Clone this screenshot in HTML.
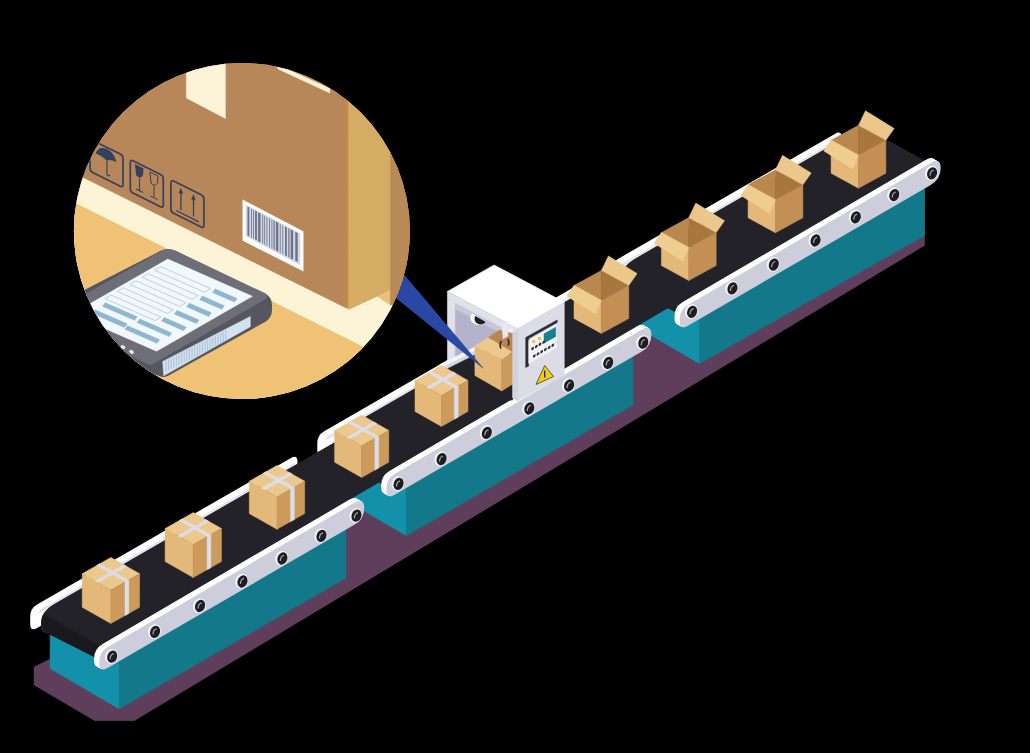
<!DOCTYPE html>
<html><head><meta charset="utf-8"><style>html,body{margin:0;padding:0;background:#000;}svg{display:block}</style></head>
<body><svg width="1030" height="753" viewBox="0 0 1030 753">
<rect width="1030" height="753" fill="#000"/>
<polygon points="34,667 34,685 94.9,720.8 134.2,720.8 924.5,245.5 924.5,180 50.1,650 50.1,659" fill="#5e3e5a" stroke="#5e3e5a" stroke-width="0.5" stroke-linejoin="round"/>
<polygon points="630.5,323.4 699.7,363.7 699.7,313.7 630.5,285.7" fill="#1391aa" stroke="#1391aa" stroke-width="0.5" stroke-linejoin="round"/>
<polygon points="699.7,363.7 924.5,235.6 924.5,173.6 699.7,301.7" fill="#12788a" stroke="#12788a" stroke-width="0.5" stroke-linejoin="round"/>
<path d="M610.6,271.2 Q610.6,263.2 617.5,259.2 L834.8,133.9 Q841.7,129.9 841.7,137.9 L841.7,145.4 Q841.7,153.4 834.8,157.4 L617.5,282.7 Q610.6,286.7 610.6,278.7 Z" fill="#ffffff" />
<polygon points="619.7,265 874.7,117.8 874.7,120.8 619.7,268" fill="#e6e6f0" stroke="#e6e6f0" stroke-width="0.5" stroke-linejoin="round"/>
<path d="M624.2,287.0 Q621.4,285.8 621.4,282.8 L621.4,277.7 Q621.4,271.7 625.0,267.0 L625.0,267.0 Q628.5,262.4 633.7,259.4 L863.6,126.7 Q863.6,126.7 863.6,126.7 L924.9,160.5 Q924.9,160.5 924.9,160.5 L677.1,305.4 Q677.1,305.4 677.1,305.4 L677.1,313.0 Q677.1,313.0 677.1,313.0 L633.2,290.9 Q630.5,289.6 627.7,288.4 Z" fill="#232228" />
<polygon points="337.2,495.4 406.4,535.7 406.4,485.7 337.2,457.7" fill="#1391aa" stroke="#1391aa" stroke-width="0.5" stroke-linejoin="round"/>
<polygon points="406.4,535.7 633.1,404.9 633.1,342.9 406.4,473.7" fill="#12788a" stroke="#12788a" stroke-width="0.5" stroke-linejoin="round"/>
<path d="M317.3,443.2 Q317.3,435.2 324.2,431.2 L577.7,285.0 Q584.6,281.0 584.6,289.0 L584.6,296.5 Q584.6,304.5 577.7,308.5 L324.2,454.7 Q317.3,458.7 317.3,450.7 Z" fill="#ffffff" />
<polygon points="326.4,437 581.4,289.8 581.4,292.8 326.4,440" fill="#e6e6f0" stroke="#e6e6f0" stroke-width="0.5" stroke-linejoin="round"/>
<path d="M341.7,459.2 Q344.4,457.8 344.4,454.8 L344.4,441.7 Q344.4,435.7 347.4,430.7 L347.4,430.7 Q350.4,425.6 355.6,422.6 L646.4,254.8 Q646.4,254.8 646.4,254.8 L691.4,294.5 Q691.4,294.5 691.4,294.5 L383.8,474.4 Q383.8,474.4 383.8,474.4 L383.8,485.0 Q383.8,485.0 383.8,485.0 L339.9,462.9 Q337.2,461.6 339.9,460.2 Z" fill="#232228" />
<polygon points="50.1,668.6 119.3,708.9 119.3,658.9 50.1,630.9" fill="#1391aa" stroke="#1391aa" stroke-width="0.5" stroke-linejoin="round"/>
<polygon points="119.3,708.9 346,578.1 346,516.1 119.3,646.9" fill="#12788a" stroke="#12788a" stroke-width="0.5" stroke-linejoin="round"/>
<path d="M30.2,616.4 Q30.2,608.4 37.1,604.4 L290.6,458.2 Q297.5,454.2 297.5,462.2 L297.5,469.7 Q297.5,477.7 290.6,481.7 L37.1,627.9 Q30.2,631.9 30.2,623.9 Z" fill="#ffffff" />
<polygon points="39.3,610.2 294.3,463 294.3,466 39.3,613.2" fill="#e6e6f0" stroke="#e6e6f0" stroke-width="0.5" stroke-linejoin="round"/>
<path d="M43.8,632.2 Q41.0,631.0 41.0,628.0 L41.0,622.9 Q41.0,616.9 44.5,612.2 L44.5,612.2 Q48.1,607.6 53.3,604.6 L359.3,428.0 Q359.3,428.0 359.3,428.0 L404.3,467.7 Q404.3,467.7 404.3,467.7 L96.7,647.6 Q96.7,647.6 96.7,647.6 L96.7,658.2 Q96.7,658.2 96.7,658.2 L52.8,636.1 Q50.1,634.8 47.3,633.6 Z" fill="#232228" />
<path d="M41.9,617.6 Q42.9,613.3 47.2,615.8 L100.3,646.4 Q100.3,646.4 100.3,646.4 L96.7,658.2 Q96.7,658.2 96.7,658.2 L50.1,634.8 Q50.1,634.8 50.1,634.8 L47.0,632.9 Q44.0,631.0 42.7,627.2 L42.3,625.8 Q41.0,622.0 41.9,618.1 Z" fill="#19181d" />
<path d="M678.8,318.9 Q678.8,309.4 687.0,304.6 L929.5,162.8 Q939.8,156.7 939.8,167.7 L939.8,167.7 Q939.8,178.7 929.5,184.7 L687.1,325.3 Q678.8,330.1 678.8,320.6 Z" fill="#ffffff" />
<path d="M678.0,318.4 Q678.0,308.9 686.2,304.1 L928.6,162.3 Q939.0,156.2 939.0,167.2 L939.0,167.2 Q939.0,178.2 928.6,184.2 L686.2,324.8 Q678.0,329.6 678.0,320.1 Z" fill="#ffffff" />
<path d="M677.1,317.9 Q677.1,308.4 685.3,303.6 L927.7,161.8 Q938.1,155.7 938.1,166.7 L938.1,166.7 Q938.1,177.7 927.7,183.7 L685.3,324.3 Q677.1,329.1 677.1,319.6 Z" fill="#ffffff" />
<path d="M676.2,317.4 Q676.2,307.9 684.4,303.1 L926.9,161.3 Q937.2,155.2 937.2,166.2 L937.2,166.2 Q937.2,177.2 926.9,183.2 L684.5,323.8 Q676.2,328.6 676.2,319.1 Z" fill="#ffffff" />
<path d="M675.4,316.9 Q675.4,307.4 683.6,302.6 L926.0,160.8 Q936.4,154.7 936.4,165.7 L936.4,165.7 Q936.4,176.7 926.0,182.7 L683.6,323.3 Q675.4,328.1 675.4,318.6 Z" fill="#ffffff" />
<path d="M674.5,316.4 Q674.5,306.9 682.7,302.1 L925.1,160.3 Q935.5,154.2 935.5,165.2 L935.5,165.2 Q935.5,176.2 925.1,182.2 L682.7,322.8 Q674.5,327.6 674.5,318.1 Z" fill="#ffffff" />
<path d="M679.7,319.4 Q679.7,309.9 687.9,305.1 L930.3,163.3 Q940.7,157.2 940.7,168.2 L940.7,168.2 Q940.7,179.2 930.3,185.2 L687.9,325.8 Q679.7,330.6 679.7,321.1 Z" fill="#cdcddb" />
<ellipse cx="691.4" cy="311.7" rx="6.3" ry="7.4" fill="#f6f6fa" transform="rotate(20 691.8 311.7)"/>
<ellipse cx="692.1" cy="311.7" rx="4.9" ry="6.3" fill="#1d1d22" transform="rotate(20 691.8 311.7)"/>
<path d="M690.0,314.3 Q690.2,309.5 693.6,308.7" stroke="#a8a8b2" stroke-width="1.2" fill="none"/>
<ellipse cx="731.8" cy="288.3" rx="6.3" ry="7.4" fill="#f6f6fa" transform="rotate(20 732.2 288.3)"/>
<ellipse cx="732.5" cy="288.3" rx="4.9" ry="6.3" fill="#1d1d22" transform="rotate(20 732.2 288.3)"/>
<path d="M730.4,290.9 Q730.6,286.1 734.0,285.3" stroke="#a8a8b2" stroke-width="1.2" fill="none"/>
<ellipse cx="773.1" cy="264.5" rx="6.3" ry="7.4" fill="#f6f6fa" transform="rotate(20 773.5 264.5)"/>
<ellipse cx="773.8" cy="264.5" rx="4.9" ry="6.3" fill="#1d1d22" transform="rotate(20 773.5 264.5)"/>
<path d="M771.7,267.1 Q771.9,262.3 775.3,261.5" stroke="#a8a8b2" stroke-width="1.2" fill="none"/>
<ellipse cx="814.9" cy="240.4" rx="6.3" ry="7.4" fill="#f6f6fa" transform="rotate(20 815.3 240.4)"/>
<ellipse cx="815.6" cy="240.4" rx="4.9" ry="6.3" fill="#1d1d22" transform="rotate(20 815.3 240.4)"/>
<path d="M813.5,243.0 Q813.7,238.2 817.1,237.4" stroke="#a8a8b2" stroke-width="1.2" fill="none"/>
<ellipse cx="855.1" cy="217.2" rx="6.3" ry="7.4" fill="#f6f6fa" transform="rotate(20 855.5 217.2)"/>
<ellipse cx="855.8" cy="217.2" rx="4.9" ry="6.3" fill="#1d1d22" transform="rotate(20 855.5 217.2)"/>
<path d="M853.7,219.8 Q853.9,215.0 857.3,214.2" stroke="#a8a8b2" stroke-width="1.2" fill="none"/>
<ellipse cx="893.6" cy="195.0" rx="6.3" ry="7.4" fill="#f6f6fa" transform="rotate(20 894.0 195.0)"/>
<ellipse cx="894.3" cy="195.0" rx="4.9" ry="6.3" fill="#1d1d22" transform="rotate(20 894.0 195.0)"/>
<path d="M892.2,197.6 Q892.4,192.8 895.8,192.0" stroke="#a8a8b2" stroke-width="1.2" fill="none"/>
<ellipse cx="931.4" cy="173.2" rx="6.3" ry="7.4" fill="#f6f6fa" transform="rotate(20 931.8 173.2)"/>
<ellipse cx="932.1" cy="173.2" rx="4.9" ry="6.3" fill="#1d1d22" transform="rotate(20 931.8 173.2)"/>
<path d="M930.0,175.8 Q930.2,171.0 933.6,170.2" stroke="#a8a8b2" stroke-width="1.2" fill="none"/>
<path d="M385.5,487.9 Q385.5,478.4 393.7,473.6 L640.2,329.4 Q650.5,323.4 650.5,334.4 L650.5,334.4 Q650.5,345.4 640.2,351.4 L393.8,494.3 Q385.5,499.1 385.5,489.6 Z" fill="#ffffff" />
<path d="M384.7,487.4 Q384.7,477.9 392.9,473.1 L639.3,328.9 Q649.7,322.9 649.7,333.9 L649.7,333.9 Q649.7,344.9 639.3,350.9 L392.9,493.8 Q384.7,498.6 384.7,489.1 Z" fill="#ffffff" />
<path d="M383.8,486.9 Q383.8,477.4 392.0,472.6 L638.4,328.4 Q648.8,322.4 648.8,333.4 L648.8,333.4 Q648.8,344.4 638.4,350.4 L392.0,493.3 Q383.8,498.1 383.8,488.6 Z" fill="#ffffff" />
<path d="M382.9,486.4 Q382.9,476.9 391.1,472.1 L637.6,327.9 Q647.9,321.9 647.9,332.9 L647.9,332.9 Q647.9,343.9 637.6,349.9 L391.2,492.8 Q382.9,497.6 382.9,488.1 Z" fill="#ffffff" />
<path d="M382.1,485.9 Q382.1,476.4 390.3,471.6 L636.7,327.4 Q647.1,321.4 647.1,332.4 L647.1,332.4 Q647.1,343.4 636.7,349.4 L390.3,492.3 Q382.1,497.1 382.1,487.6 Z" fill="#ffffff" />
<path d="M381.2,485.4 Q381.2,475.9 389.4,471.1 L635.8,326.9 Q646.2,320.9 646.2,331.9 L646.2,331.9 Q646.2,342.9 635.8,348.9 L389.4,491.8 Q381.2,496.6 381.2,487.1 Z" fill="#ffffff" />
<path d="M386.4,488.4 Q386.4,478.9 394.6,474.1 L641.0,329.9 Q651.4,323.9 651.4,334.9 L651.4,334.9 Q651.4,345.9 641.0,351.9 L394.6,494.8 Q386.4,499.6 386.4,490.1 Z" fill="#cdcddb" />
<ellipse cx="397.9" cy="483.8" rx="6.3" ry="7.4" fill="#f6f6fa" transform="rotate(20 398.3 483.8)"/>
<ellipse cx="398.6" cy="483.8" rx="4.9" ry="6.3" fill="#1d1d22" transform="rotate(20 398.3 483.8)"/>
<path d="M396.5,486.4 Q396.7,481.6 400.1,480.8" stroke="#a8a8b2" stroke-width="1.2" fill="none"/>
<ellipse cx="440.9" cy="459.0" rx="6.3" ry="7.4" fill="#f6f6fa" transform="rotate(20 441.3 459.0)"/>
<ellipse cx="441.6" cy="459.0" rx="4.9" ry="6.3" fill="#1d1d22" transform="rotate(20 441.3 459.0)"/>
<path d="M439.5,461.6 Q439.7,456.8 443.1,456.0" stroke="#a8a8b2" stroke-width="1.2" fill="none"/>
<ellipse cx="486.2" cy="432.8" rx="6.3" ry="7.4" fill="#f6f6fa" transform="rotate(20 486.6 432.8)"/>
<ellipse cx="486.9" cy="432.8" rx="4.9" ry="6.3" fill="#1d1d22" transform="rotate(20 486.6 432.8)"/>
<path d="M484.8,435.4 Q485.0,430.6 488.4,429.8" stroke="#a8a8b2" stroke-width="1.2" fill="none"/>
<ellipse cx="528.6" cy="408.4" rx="6.3" ry="7.4" fill="#f6f6fa" transform="rotate(20 529.0 408.4)"/>
<ellipse cx="529.3" cy="408.4" rx="4.9" ry="6.3" fill="#1d1d22" transform="rotate(20 529.0 408.4)"/>
<path d="M527.2,411.0 Q527.4,406.2 530.8,405.4" stroke="#a8a8b2" stroke-width="1.2" fill="none"/>
<ellipse cx="568.4" cy="385.4" rx="6.3" ry="7.4" fill="#f6f6fa" transform="rotate(20 568.8 385.4)"/>
<ellipse cx="569.1" cy="385.4" rx="4.9" ry="6.3" fill="#1d1d22" transform="rotate(20 568.8 385.4)"/>
<path d="M567.0,388.0 Q567.2,383.2 570.6,382.4" stroke="#a8a8b2" stroke-width="1.2" fill="none"/>
<ellipse cx="607.6" cy="362.8" rx="6.3" ry="7.4" fill="#f6f6fa" transform="rotate(20 608.0 362.8)"/>
<ellipse cx="608.3" cy="362.8" rx="4.9" ry="6.3" fill="#1d1d22" transform="rotate(20 608.0 362.8)"/>
<path d="M606.2,365.4 Q606.4,360.6 609.8,359.8" stroke="#a8a8b2" stroke-width="1.2" fill="none"/>
<ellipse cx="642.6" cy="342.6" rx="6.3" ry="7.4" fill="#f6f6fa" transform="rotate(20 643.0 342.6)"/>
<ellipse cx="643.3" cy="342.6" rx="4.9" ry="6.3" fill="#1d1d22" transform="rotate(20 643.0 342.6)"/>
<path d="M641.2,345.2 Q641.4,340.4 644.8,339.6" stroke="#a8a8b2" stroke-width="1.2" fill="none"/>
<path d="M98.4,661.1 Q98.4,651.6 106.6,646.8 L353.1,502.6 Q363.4,496.6 363.4,507.6 L363.4,507.6 Q363.4,518.6 353.1,524.6 L106.7,667.5 Q98.4,672.3 98.4,662.8 Z" fill="#ffffff" />
<path d="M97.6,660.6 Q97.6,651.1 105.8,646.3 L352.2,502.1 Q362.6,496.1 362.6,507.1 L362.6,507.1 Q362.6,518.1 352.2,524.1 L105.8,667.0 Q97.6,671.8 97.6,662.3 Z" fill="#ffffff" />
<path d="M96.7,660.1 Q96.7,650.6 104.9,645.8 L351.3,501.6 Q361.7,495.6 361.7,506.6 L361.7,506.6 Q361.7,517.6 351.3,523.6 L104.9,666.5 Q96.7,671.3 96.7,661.8 Z" fill="#ffffff" />
<path d="M95.8,659.6 Q95.8,650.1 104.0,645.3 L350.5,501.1 Q360.8,495.1 360.8,506.1 L360.8,506.1 Q360.8,517.1 350.5,523.1 L104.1,666.0 Q95.8,670.8 95.8,661.3 Z" fill="#ffffff" />
<path d="M95.0,659.1 Q95.0,649.6 103.2,644.8 L349.6,500.6 Q360.0,494.6 360.0,505.6 L360.0,505.6 Q360.0,516.6 349.6,522.6 L103.2,665.5 Q95.0,670.3 95.0,660.8 Z" fill="#ffffff" />
<path d="M94.1,658.6 Q94.1,649.1 102.3,644.3 L348.7,500.1 Q359.1,494.1 359.1,505.1 L359.1,505.1 Q359.1,516.1 348.7,522.1 L102.3,665.0 Q94.1,669.8 94.1,660.3 Z" fill="#ffffff" />
<path d="M99.3,661.6 Q99.3,652.1 107.5,647.3 L353.9,503.1 Q364.3,497.1 364.3,508.1 L364.3,508.1 Q364.3,519.1 353.9,525.1 L107.5,668.0 Q99.3,672.8 99.3,663.3 Z" fill="#cdcddb" />
<ellipse cx="111.5" cy="656.6" rx="6.3" ry="7.4" fill="#f6f6fa" transform="rotate(20 111.9 656.6)"/>
<ellipse cx="112.2" cy="656.6" rx="4.9" ry="6.3" fill="#1d1d22" transform="rotate(20 111.9 656.6)"/>
<path d="M110.1,659.2 Q110.3,654.4 113.7,653.6" stroke="#a8a8b2" stroke-width="1.2" fill="none"/>
<ellipse cx="154.4" cy="631.8" rx="6.3" ry="7.4" fill="#f6f6fa" transform="rotate(20 154.8 631.8)"/>
<ellipse cx="155.1" cy="631.8" rx="4.9" ry="6.3" fill="#1d1d22" transform="rotate(20 154.8 631.8)"/>
<path d="M153.0,634.4 Q153.2,629.6 156.6,628.8" stroke="#a8a8b2" stroke-width="1.2" fill="none"/>
<ellipse cx="199.4" cy="605.9" rx="6.3" ry="7.4" fill="#f6f6fa" transform="rotate(20 199.8 605.9)"/>
<ellipse cx="200.1" cy="605.9" rx="4.9" ry="6.3" fill="#1d1d22" transform="rotate(20 199.8 605.9)"/>
<path d="M198.0,608.5 Q198.2,603.7 201.6,602.9" stroke="#a8a8b2" stroke-width="1.2" fill="none"/>
<ellipse cx="241.8" cy="581.4" rx="6.3" ry="7.4" fill="#f6f6fa" transform="rotate(20 242.2 581.4)"/>
<ellipse cx="242.5" cy="581.4" rx="4.9" ry="6.3" fill="#1d1d22" transform="rotate(20 242.2 581.4)"/>
<path d="M240.4,584.0 Q240.6,579.2 244.0,578.4" stroke="#a8a8b2" stroke-width="1.2" fill="none"/>
<ellipse cx="281.7" cy="558.4" rx="6.3" ry="7.4" fill="#f6f6fa" transform="rotate(20 282.1 558.4)"/>
<ellipse cx="282.4" cy="558.4" rx="4.9" ry="6.3" fill="#1d1d22" transform="rotate(20 282.1 558.4)"/>
<path d="M280.3,561.0 Q280.5,556.2 283.9,555.4" stroke="#a8a8b2" stroke-width="1.2" fill="none"/>
<ellipse cx="320.8" cy="535.8" rx="6.3" ry="7.4" fill="#f6f6fa" transform="rotate(20 321.2 535.8)"/>
<ellipse cx="321.5" cy="535.8" rx="4.9" ry="6.3" fill="#1d1d22" transform="rotate(20 321.2 535.8)"/>
<path d="M319.4,538.4 Q319.6,533.6 323.0,532.8" stroke="#a8a8b2" stroke-width="1.2" fill="none"/>
<ellipse cx="355.8" cy="515.6" rx="6.3" ry="7.4" fill="#f6f6fa" transform="rotate(20 356.2 515.6)"/>
<ellipse cx="356.5" cy="515.6" rx="4.9" ry="6.3" fill="#1d1d22" transform="rotate(20 356.2 515.6)"/>
<path d="M354.4,518.2 Q354.6,513.4 358.0,512.6" stroke="#a8a8b2" stroke-width="1.2" fill="none"/>
<polygon points="831.1,140.2 858.5,125.2 858.5,155.2" fill="#b9884f" stroke="#b9884f" stroke-width="0.5" stroke-linejoin="round"/>
<polygon points="858.5,125.2 885.9,140.2 858.5,155.2" fill="#a8773d" stroke="#a8773d" stroke-width="0.5" stroke-linejoin="round"/>
<polygon points="831.1,140.2 858.5,155.2 858.5,188.2 831.1,173.2" fill="#e4b878" stroke="#e4b878" stroke-width="0.5" stroke-linejoin="round"/>
<polygon points="858.5,155.2 885.9,140.2 885.9,173.2 858.5,188.2" fill="#c38f54" stroke="#c38f54" stroke-width="0.5" stroke-linejoin="round"/>
<polygon points="831.1,140.2 858.5,155.2 852.7,169 823.8,150.9" fill="#efcc90" stroke="#efcc90" stroke-width="0.5" stroke-linejoin="round"/>
<polygon points="858.5,125.2 885.9,140.2 894.2,128.4 865.5,110.7" fill="#ebc78b" stroke="#ebc78b" stroke-width="0.5" stroke-linejoin="round"/>
<polygon points="748.1,184.8 775.5,169.8 775.5,199.8" fill="#b9884f" stroke="#b9884f" stroke-width="0.5" stroke-linejoin="round"/>
<polygon points="775.5,169.8 802.9,184.8 775.5,199.8" fill="#a8773d" stroke="#a8773d" stroke-width="0.5" stroke-linejoin="round"/>
<polygon points="748.1,184.8 775.5,199.8 775.5,232.8 748.1,217.8" fill="#e4b878" stroke="#e4b878" stroke-width="0.5" stroke-linejoin="round"/>
<polygon points="775.5,199.8 802.9,184.8 802.9,217.8 775.5,232.8" fill="#c38f54" stroke="#c38f54" stroke-width="0.5" stroke-linejoin="round"/>
<polygon points="748.1,184.8 775.5,199.8 769.7,213.6 740.8,195.5" fill="#efcc90" stroke="#efcc90" stroke-width="0.5" stroke-linejoin="round"/>
<polygon points="775.5,169.8 802.9,184.8 811.2,173 782.5,155.3" fill="#ebc78b" stroke="#ebc78b" stroke-width="0.5" stroke-linejoin="round"/>
<polygon points="661.4,232.6 688.8,217.6 688.8,247.6" fill="#b9884f" stroke="#b9884f" stroke-width="0.5" stroke-linejoin="round"/>
<polygon points="688.8,217.6 716.2,232.6 688.8,247.6" fill="#a8773d" stroke="#a8773d" stroke-width="0.5" stroke-linejoin="round"/>
<polygon points="661.4,232.6 688.8,247.6 688.8,280.6 661.4,265.6" fill="#e4b878" stroke="#e4b878" stroke-width="0.5" stroke-linejoin="round"/>
<polygon points="688.8,247.6 716.2,232.6 716.2,265.6 688.8,280.6" fill="#c38f54" stroke="#c38f54" stroke-width="0.5" stroke-linejoin="round"/>
<polygon points="661.4,232.6 688.8,247.6 683,261.4 654.1,243.3" fill="#efcc90" stroke="#efcc90" stroke-width="0.5" stroke-linejoin="round"/>
<polygon points="688.8,217.6 716.2,232.6 724.5,220.8 695.8,203.1" fill="#ebc78b" stroke="#ebc78b" stroke-width="0.5" stroke-linejoin="round"/>
<polygon points="574,285.4 601.4,270.4 601.4,300.4" fill="#b9884f" stroke="#b9884f" stroke-width="0.5" stroke-linejoin="round"/>
<polygon points="601.4,270.4 628.8,285.4 601.4,300.4" fill="#a8773d" stroke="#a8773d" stroke-width="0.5" stroke-linejoin="round"/>
<polygon points="574,285.4 601.4,300.4 601.4,333.4 574,318.4" fill="#e4b878" stroke="#e4b878" stroke-width="0.5" stroke-linejoin="round"/>
<polygon points="601.4,300.4 628.8,285.4 628.8,318.4 601.4,333.4" fill="#c38f54" stroke="#c38f54" stroke-width="0.5" stroke-linejoin="round"/>
<polygon points="574,285.4 601.4,300.4 595.6,314.2 566.7,296.1" fill="#efcc90" stroke="#efcc90" stroke-width="0.5" stroke-linejoin="round"/>
<polygon points="601.4,270.4 628.8,285.4 637.1,273.6 608.4,255.9" fill="#ebc78b" stroke="#ebc78b" stroke-width="0.5" stroke-linejoin="round"/>
<polygon points="494.1,264.9 564.3,302.1 517.6,328.6 447.4,291.4" fill="#ffffff" stroke="#ffffff" stroke-width="0.5" stroke-linejoin="round"/>
<polygon points="447.4,291.4 517.6,328.6 517.6,400 447.4,362" fill="#e1e1ea" stroke="#e1e1ea" stroke-width="0.5" stroke-linejoin="round"/>
<polygon points="455.3,303.5 512.6,334 512.6,340.3 455.3,362.5" fill="#b5b3cb" stroke="#b5b3cb" stroke-width="0.5" stroke-linejoin="round"/>
<polygon points="455.3,303.5 512.6,334 512.6,339 455.3,309" fill="#c9c7da" stroke="#c9c7da" stroke-width="0.5" stroke-linejoin="round"/>
<polygon points="440,364.4 512.6,328.1 512.6,336.1 440,372.4" fill="#f4f4f8" stroke="#f4f4f8" stroke-width="0.5" stroke-linejoin="round"/>
<polygon points="440,368.6 512.6,332.3 512.6,336.1 440,372.4" fill="#d8d8e4" stroke="#d8d8e4" stroke-width="0.5" stroke-linejoin="round"/>
<polygon points="440,372.4 512.6,336.1 512.6,400 440,400" fill="#232228" stroke="#232228" stroke-width="0.5" stroke-linejoin="round"/>
<path d="M472,313.5 A7,6 0 0 0 486,322 Z" fill="#ffffff"/>
<path d="M475.5,316 A5.5,4.8 0 0 0 485.8,322 Z" fill="#1d1d22"/>
<polygon points="474.9,345.8 501.8,359.7 501.8,390.9 474.9,375.5" fill="#e4b878" stroke="#e4b878" stroke-width="0.5" stroke-linejoin="round"/>
<polygon points="501.8,359.7 513,352.5 513,384 501.8,390.9" fill="#cc9a5b" stroke="#cc9a5b" stroke-width="0.5" stroke-linejoin="round"/>
<polygon points="474.9,345.8 488.3,337.4 513,351.8 501.8,359.7" fill="#edc88c" stroke="#edc88c" stroke-width="0.5" stroke-linejoin="round"/>
<polygon points="488.3,337.4 499.5,330 513,333.7 513,351.8" fill="#b98650" stroke="#b98650" stroke-width="0.5" stroke-linejoin="round"/>
<polygon points="502,324 507,321 508,336 503,339" fill="#e8e8f0" stroke="#e8e8f0" stroke-width="0.5" stroke-linejoin="round"/>
<path d="M501.5,341 q-2.5,3.5 -0.5,7.5 M507.5,339 q2.5,3 0.5,6.5" stroke="#2a2a30" stroke-width="1.6" fill="none"/>
<polygon points="517.6,328.6 564.3,302.1 564.3,375.5 517.6,401" fill="#dcdce6" stroke="#dcdce6" stroke-width="0.5" stroke-linejoin="round"/>
<polygon points="512.6,334 517.6,331 517.6,401 512.6,398" fill="#d2d2de" stroke="#d2d2de" stroke-width="0.5" stroke-linejoin="round"/>
<polygon points="525.7,337.5 557.2,320 557.2,322.5 528.7,338.5 528.7,366 525.7,367.5" fill="#2b2b33" stroke="#2b2b33" stroke-width="0.5" stroke-linejoin="round"/>
<polygon points="528.7,340.5 556.4,324.7 556.4,347.7 528.7,363.5" fill="#f3f3f7" stroke="#f3f3f7" stroke-width="0.5" stroke-linejoin="round"/>
<polygon points="544,333.8 555.7,327.2 555.7,336.6 544,343.2" fill="#16808f" stroke="#16808f" stroke-width="0.5" stroke-linejoin="round"/>
<circle cx="533.8" cy="341.6" r="1.7" fill="#f2c418"/><circle cx="539.4" cy="338.4" r="1.7" fill="#f2c418"/>
<path d="M531.3,348.8 Q531.3,348.0 532.0,347.6 L533.2,346.9 Q533.9,346.5 533.9,347.3 L533.9,348.3 Q533.9,349.1 533.2,349.5 L532.0,350.2 Q531.3,350.6 531.3,349.8 Z" fill="#2b2b33" />
<path d="M535.0,346.7 Q535.0,345.9 535.7,345.5 L536.9,344.8 Q537.6,344.4 537.6,345.2 L537.6,346.2 Q537.6,347.0 536.9,347.4 L535.7,348.1 Q535.0,348.5 535.0,347.7 Z" fill="#2b2b33" />
<path d="M538.7,344.5 Q538.7,343.7 539.4,343.3 L540.6,342.6 Q541.3,342.2 541.3,343.0 L541.3,344.0 Q541.3,344.8 540.6,345.2 L539.4,345.9 Q538.7,346.3 538.7,345.5 Z" fill="#2b2b33" />
<path d="M542.4,342.4 Q542.4,341.6 543.1,341.2 L544.3,340.5 Q545.0,340.1 545.0,340.9 L545.0,341.9 Q545.0,342.7 544.3,343.1 L543.1,343.8 Q542.4,344.2 542.4,343.4 Z" fill="#2b2b33" />
<path d="M533.0,356.2 Q533.0,355.4 533.7,355.0 L534.9,354.3 Q535.6,353.9 535.6,354.7 L535.6,355.7 Q535.6,356.5 534.9,356.9 L533.7,357.6 Q533.0,358.0 533.0,357.2 Z" fill="#2b2b33" />
<path d="M536.7,354.1 Q536.7,353.3 537.4,352.9 L538.6,352.2 Q539.3,351.8 539.3,352.6 L539.3,353.6 Q539.3,354.4 538.6,354.8 L537.4,355.5 Q536.7,355.9 536.7,355.1 Z" fill="#2b2b33" />
<path d="M540.4,351.9 Q540.4,351.1 541.1,350.7 L542.3,350.0 Q543.0,349.6 543.0,350.4 L543.0,351.4 Q543.0,352.2 542.3,352.6 L541.1,353.3 Q540.4,353.7 540.4,352.9 Z" fill="#2b2b33" />
<path d="M544.1,349.8 Q544.1,349.0 544.8,348.6 L546.0,347.9 Q546.7,347.5 546.7,348.3 L546.7,349.3 Q546.7,350.1 546.0,350.5 L544.8,351.2 Q544.1,351.6 544.1,350.8 Z" fill="#2b2b33" />
<path d="M547.8,347.7 Q547.8,346.9 548.5,346.5 L549.7,345.8 Q550.4,345.4 550.4,346.2 L550.4,347.2 Q550.4,348.0 549.7,348.4 L548.5,349.1 Q547.8,349.5 547.8,348.7 Z" fill="#2b2b33" />
<path d="M551.5,345.5 Q551.5,344.7 552.2,344.3 L553.4,343.6 Q554.1,343.2 554.1,344.0 L554.1,345.0 Q554.1,345.8 553.4,346.2 L552.2,346.9 Q551.5,347.3 551.5,346.5 Z" fill="#2b2b33" />
<polygon points="544.7,365.5 553.5,376.5 536,384.5" fill="#f5cf0a" stroke="#3a3a3a" stroke-width="0.8" stroke-linejoin="round"/>
<path d="M544.6,370.5 L544.8,377.5" stroke="#222" stroke-width="1.4"/>
<polygon points="441.5,365.4 468,380.4 441.5,395.5 415,380.4" fill="#edc88c" stroke="#edc88c" stroke-width="0.5" stroke-linejoin="round"/>
<polygon points="415,380.4 441.5,395.5 441.5,426.5 415,411.4" fill="#e4b878" stroke="#e4b878" stroke-width="0.5" stroke-linejoin="round"/>
<polygon points="441.5,395.5 468,380.4 468,411.4 441.5,426.5" fill="#cc9a5b" stroke="#cc9a5b" stroke-width="0.5" stroke-linejoin="round"/>
<polygon points="426.8,387.1 453.3,372.1 456.2,373.7 429.7,388.8" fill="#dcdde9" stroke="#dcdde9" stroke-width="0.5" stroke-linejoin="round"/>
<polygon points="428.3,372.9 454.8,387.9 457.7,386.3 431.2,371.2" fill="#dcdde9" stroke="#dcdde9" stroke-width="0.5" stroke-linejoin="round"/>
<polygon points="454.4,388.2 458.2,386 458.2,417 454.4,419.2" fill="#dcdde9" stroke="#dcdde9" stroke-width="0.5" stroke-linejoin="round"/>
<polygon points="361.7,415.1 388.8,430.5 361.7,445.8 334.6,430.5" fill="#edc88c" stroke="#edc88c" stroke-width="0.5" stroke-linejoin="round"/>
<polygon points="334.6,430.5 361.7,445.8 361.7,477.5 334.6,462.2" fill="#e4b878" stroke="#e4b878" stroke-width="0.5" stroke-linejoin="round"/>
<polygon points="361.7,445.8 388.8,430.5 388.8,462.2 361.7,477.5" fill="#cc9a5b" stroke="#cc9a5b" stroke-width="0.5" stroke-linejoin="round"/>
<polygon points="346.7,437.3 373.8,422 376.7,423.6 349.6,439" fill="#dcdde9" stroke="#dcdde9" stroke-width="0.5" stroke-linejoin="round"/>
<polygon points="348.2,422.7 375.3,438.1 378.2,436.5 351.1,421.1" fill="#dcdde9" stroke="#dcdde9" stroke-width="0.5" stroke-linejoin="round"/>
<polygon points="374.9,438.4 378.7,436.2 378.7,467.9 374.9,470.1" fill="#dcdde9" stroke="#dcdde9" stroke-width="0.5" stroke-linejoin="round"/>
<polygon points="277,465.5 304.7,481.2 277,496.9 249.3,481.2" fill="#edc88c" stroke="#edc88c" stroke-width="0.5" stroke-linejoin="round"/>
<polygon points="249.3,481.2 277,496.9 277,529.3 249.3,513.6" fill="#e4b878" stroke="#e4b878" stroke-width="0.5" stroke-linejoin="round"/>
<polygon points="277,496.9 304.7,481.2 304.7,513.6 277,529.3" fill="#cc9a5b" stroke="#cc9a5b" stroke-width="0.5" stroke-linejoin="round"/>
<polygon points="261.7,488.2 289.4,472.5 292.3,474.2 264.6,489.9" fill="#dcdde9" stroke="#dcdde9" stroke-width="0.5" stroke-linejoin="round"/>
<polygon points="263.3,473.3 291,489 293.9,487.3 266.2,471.6" fill="#dcdde9" stroke="#dcdde9" stroke-width="0.5" stroke-linejoin="round"/>
<polygon points="290.5,489.2 294.3,487.1 294.3,519.5 290.5,521.6" fill="#dcdde9" stroke="#dcdde9" stroke-width="0.5" stroke-linejoin="round"/>
<polygon points="193.3,512.6 221.5,528.6 193.3,544.6 165.1,528.6" fill="#edc88c" stroke="#edc88c" stroke-width="0.5" stroke-linejoin="round"/>
<polygon points="165.1,528.6 193.3,544.6 193.3,577.6 165.1,561.6" fill="#e4b878" stroke="#e4b878" stroke-width="0.5" stroke-linejoin="round"/>
<polygon points="193.3,544.6 221.5,528.6 221.5,561.6 193.3,577.6" fill="#cc9a5b" stroke="#cc9a5b" stroke-width="0.5" stroke-linejoin="round"/>
<polygon points="177.8,535.8 206,519.8 208.8,521.4 180.7,537.4" fill="#dcdde9" stroke="#dcdde9" stroke-width="0.5" stroke-linejoin="round"/>
<polygon points="179.4,520.5 207.6,536.5 210.5,534.9 182.3,518.9" fill="#dcdde9" stroke="#dcdde9" stroke-width="0.5" stroke-linejoin="round"/>
<polygon points="207.1,536.8 210.9,534.6 210.9,567.6 207.1,569.7" fill="#dcdde9" stroke="#dcdde9" stroke-width="0.5" stroke-linejoin="round"/>
<polygon points="110.9,557.4 139.6,573.7 110.9,589.9 82.2,573.7" fill="#edc88c" stroke="#edc88c" stroke-width="0.5" stroke-linejoin="round"/>
<polygon points="82.2,573.7 110.9,589.9 110.9,623.5 82.2,607.3" fill="#e4b878" stroke="#e4b878" stroke-width="0.5" stroke-linejoin="round"/>
<polygon points="110.9,589.9 139.6,573.7 139.6,607.3 110.9,623.5" fill="#cc9a5b" stroke="#cc9a5b" stroke-width="0.5" stroke-linejoin="round"/>
<polygon points="95.1,581 123.8,564.7 126.7,566.4 98,582.6" fill="#dcdde9" stroke="#dcdde9" stroke-width="0.5" stroke-linejoin="round"/>
<polygon points="96.7,565.4 125.4,581.7 128.3,580.1 99.6,563.8" fill="#dcdde9" stroke="#dcdde9" stroke-width="0.5" stroke-linejoin="round"/>
<polygon points="125,582 128.8,579.8 128.8,613.4 125,615.5" fill="#dcdde9" stroke="#dcdde9" stroke-width="0.5" stroke-linejoin="round"/>
<polygon points="404.3,275.1 483.2,368.3 396.4,298.2" fill="#2a47a3" stroke="#2a47a3" stroke-width="0.5" stroke-linejoin="round"/>
<defs><clipPath id="cc"><circle cx="241.9" cy="231.1" r="168"/></clipPath></defs>
<g clip-path="url(#cc)">
<rect x="60" y="50" width="370" height="370" fill="#f0c276"/>
<polygon points="60,165.9 348.5,309.6 377.8,296.5 390.4,304.9 430,300 430,400 60,400" fill="#fdf3d6" stroke="#fdf3d6" stroke-width="0.5" stroke-linejoin="round"/>
<polygon points="60,195.6 430,380.2 430,420 60,420" fill="#f0c276" stroke="#f0c276" stroke-width="0.5" stroke-linejoin="round"/>
<polygon points="60,40 347,40 347,308.3 60,165.9" fill="#b7875a" stroke="#b7875a" stroke-width="0.5" stroke-linejoin="round"/>
<polygon points="345,40 348.6,40 348.6,308 345,306.5" fill="#c4884d" stroke="#c4884d" stroke-width="0.5" stroke-linejoin="round"/>
<polygon points="348.6,40 390.4,40 390.4,289.9 348.5,309.6" fill="#d4ac64" stroke="#d4ac64" stroke-width="0.5" stroke-linejoin="round"/>
<polygon points="377.8,296.5 390.4,289.9 390.4,304.9" fill="#e8c27c" stroke="#e8c27c" stroke-width="0.5" stroke-linejoin="round"/>
<polygon points="390.4,40 430,40 430,300 390.4,304.9" fill="#b98a57" stroke="#b98a57" stroke-width="0.5" stroke-linejoin="round"/>
<polygon points="186.4,40 225.4,40 225.4,118.4 186.4,98" fill="#fdf3d8" stroke="#fdf3d8" stroke-width="0.5" stroke-linejoin="round"/>
<polygon points="276,64 329.7,88.5 329.7,93 278,69" fill="#fdf3d8" stroke="#fdf3d8" stroke-width="0.5" stroke-linejoin="round"/>
<path d="M90.0,142.1 Q90.0,139.1 92.7,140.4 L120.3,154.1 Q123.0,155.4 123.0,158.4 L123.0,184.6 Q123.0,187.6 120.3,186.3 L92.7,172.6 Q90.0,171.3 90.0,168.3 Z" fill="none" stroke="#34415c" stroke-width="1.7"/>
<path d="M130.3,162.5 Q130.3,159.5 133.0,160.8 L160.6,174.5 Q163.3,175.8 163.3,178.8 L163.3,205.0 Q163.3,208.0 160.6,206.7 L133.0,193.0 Q130.3,191.7 130.3,188.7 Z" fill="none" stroke="#34415c" stroke-width="1.7"/>
<path d="M170.9,182.8 Q170.9,179.8 173.6,181.1 L201.2,194.8 Q203.9,196.1 203.9,199.1 L203.9,225.3 Q203.9,228.3 201.2,227.0 L173.6,213.3 Q170.9,212.0 170.9,209.0 Z" fill="none" stroke="#34415c" stroke-width="1.7"/>
<path d="M95.5,153.5 Q98,146 106,148.5 Q114,152 116.5,162 Q112,159.5 106,160 Q101,155 95.5,153.5 Z" fill="#34415c"/>
<path d="M107,158 L107,174 Q108,177 110,175" stroke="#34415c" stroke-width="1.2" fill="none"/>
<path d="M135,164 L143.5,168.5 L143,175 Q140,180 136,175 Z" fill="#34415c"/>
<path d="M139.5,178 L139.5,190 M136,189 L143,192.5" stroke="#34415c" stroke-width="1.1" fill="none"/>
<path d="M150,172 L158,176 L157.5,183 Q154,187.5 151,183 Z M154,186 L154,197 M150.5,196 L157.5,199.5" stroke="#34415c" stroke-width="1" fill="none"/>
<path d="M180.9,210 L180.9,191 M193.5,216.5 L193.5,198 M176.2,210.5 L198.8,221.8" stroke="#34415c" stroke-width="1.3" fill="none"/>
<path d="M178.6,193 L180.9,187.5 L183.2,194 Z M191.2,199.5 L193.5,194 L195.8,200.5 Z" fill="#34415c"/>
<polygon points="242.8,199.9 303.2,231.6 303.2,271.1 242.8,240.5" fill="#ffffff" stroke="#ffffff" stroke-width="0.5" stroke-linejoin="round"/>
<polygon points="246,205 300,233.5 300,265 246,236" fill="#d3d8e3" stroke="#d3d8e3" stroke-width="0.5" stroke-linejoin="round"/>
<polygon points="247.5,206.6 249.3,207.5 249.3,236.5 247.5,235.6" fill="#6a7389"/>
<polygon points="251.1,208.5 251.9,208.9 251.9,237.9 251.1,237.5" fill="#6a7389"/>
<polygon points="253.1,209.5 253.9,210.0 253.9,239.0 253.1,238.5" fill="#6a7389"/>
<polygon points="255.1,210.6 256.9,211.5 256.9,240.5 255.1,239.6" fill="#6a7389"/>
<polygon points="258.1,212.2 260.5,213.4 260.5,242.4 258.1,241.2" fill="#6a7389"/>
<polygon points="262.3,214.4 263.1,214.8 263.1,243.8 262.3,243.4" fill="#6a7389"/>
<polygon points="264.3,215.4 265.1,215.9 265.1,244.9 264.3,244.4" fill="#6a7389"/>
<polygon points="266.6,216.7 267.4,217.1 267.4,246.1 266.6,245.7" fill="#6a7389"/>
<polygon points="269.2,218.0 270.0,218.4 270.0,247.4 269.2,247.0" fill="#6a7389"/>
<polygon points="271.5,219.2 272.3,219.7 272.3,248.7 271.5,248.2" fill="#6a7389"/>
<polygon points="273.5,220.3 274.7,220.9 274.7,249.9 273.5,249.3" fill="#6a7389"/>
<polygon points="275.9,221.6 278.3,222.8 278.3,251.8 275.9,250.6" fill="#6a7389"/>
<polygon points="279.8,223.6 280.6,224.0 280.6,253.0 279.8,252.6" fill="#6a7389"/>
<polygon points="282.4,225.0 283.2,225.4 283.2,254.4 282.4,254.0" fill="#6a7389"/>
<polygon points="285.0,226.4 286.8,227.3 286.8,256.3 285.0,255.4" fill="#6a7389"/>
<polygon points="288.3,228.1 289.5,228.7 289.5,257.7 288.3,257.1" fill="#6a7389"/>
<polygon points="290.7,229.4 293.1,230.6 293.1,259.6 290.7,258.4" fill="#6a7389"/>
<polygon points="295.3,231.8 297.7,233.0 297.7,262.0 295.3,260.8" fill="#6a7389"/>
<path d="M160.7,250.8 Q167.8,247.2 175.0,250.6 L264.8,293.6 Q272.0,297.0 272.0,305.0 L272.0,310.0 Q272.0,318.0 265.0,321.9 L168.2,375.8 Q164.7,377.7 160.9,376.4 L40.0,335.0 Q40.0,335.0 40.0,335.0 L40.0,312.6 Q40.0,312.6 40.0,312.6 Z" fill="#55565f" />
<path d="M160.0,251.7 Q167.8,247.2 175.9,251.0 L263.8,292.6 Q271.0,296.0 264.1,300.0 L153.0,364.0 Q150.4,365.5 147.7,364.2 L47.5,315.7 Q47.5,315.7 47.5,315.7 Z" fill="#6d6e78" />
<polygon points="167.8,259.1 252.4,296.2 156.5,351.2 71.9,314.1" fill="#f2f7fa" stroke="#f2f7fa" stroke-width="0.5" stroke-linejoin="round"/>
<polygon points="160.6,266.6 210.6,288.6 204.6,292.2 154.6,270.2" fill="none" stroke="#b3cde0" stroke-width="0.9"/>
<polygon points="148.2,273.7 198.2,295.7 192.2,299.3 142.2,277.3" fill="none" stroke="#b3cde0" stroke-width="0.9"/>
<polygon points="135.8,280.8 185.8,302.8 179.8,306.4 129.8,284.4" fill="none" stroke="#b3cde0" stroke-width="0.9"/>
<polygon points="123.4,287.9 173.4,309.9 167.4,313.5 117.4,291.5" fill="none" stroke="#b3cde0" stroke-width="0.9"/>
<polygon points="111,295 161,317 155,320.6 105,298.6" fill="none" stroke="#b3cde0" stroke-width="0.9"/>
<polygon points="215.1,288.9 237.1,298.5 234.5,302.1 212.5,292.5" fill="#8db6d0" stroke="#8db6d0" stroke-width="0.5" stroke-linejoin="round"/>
<polygon points="202.3,296.1 224.3,305.7 221.7,309.3 199.7,299.7" fill="#8db6d0" stroke="#8db6d0" stroke-width="0.5" stroke-linejoin="round"/>
<polygon points="189.3,303.2 211.3,312.8 208.7,316.4 186.7,306.8" fill="#8db6d0" stroke="#8db6d0" stroke-width="0.5" stroke-linejoin="round"/>
<polygon points="177,310.4 199,320 196.4,323.6 174.4,314" fill="#8db6d0" stroke="#8db6d0" stroke-width="0.5" stroke-linejoin="round"/>
<polygon points="164.2,317.5 186.2,327.1 183.6,330.7 161.6,321.1" fill="#8db6d0" stroke="#8db6d0" stroke-width="0.5" stroke-linejoin="round"/>
<polygon points="139.8,319 171.8,333 169.2,336.6 137.2,322.6" fill="#8db6d0" stroke="#8db6d0" stroke-width="0.5" stroke-linejoin="round"/>
<polygon points="127.6,325.7 159.6,339.7 157,343.3 125,329.3" fill="#8db6d0" stroke="#8db6d0" stroke-width="0.5" stroke-linejoin="round"/>
<polygon points="105.2,302.7 137.2,316.7 134.6,320.3 102.6,306.3" fill="#8db6d0" stroke="#8db6d0" stroke-width="0.5" stroke-linejoin="round"/>
<polygon points="95,309.8 127,323.8 124.4,327.4 92.4,313.4" fill="#8db6d0" stroke="#8db6d0" stroke-width="0.5" stroke-linejoin="round"/>
<polygon points="162.7,361.4 250.3,316.5 250.3,326.7 163.7,375.7" fill="#d3e2ef" stroke="#d3e2ef" stroke-width="0.5" stroke-linejoin="round"/>
<path d="M166.0,360.7 l0,11" stroke="#9fb8cf" stroke-width="0.8"/>
<path d="M168.6,359.4 l0,11" stroke="#9fb8cf" stroke-width="0.8"/>
<path d="M171.2,358.0 l0,11" stroke="#9fb8cf" stroke-width="0.8"/>
<path d="M173.8,356.7 l0,11" stroke="#9fb8cf" stroke-width="0.8"/>
<path d="M176.4,355.4 l0,11" stroke="#9fb8cf" stroke-width="0.8"/>
<path d="M179.0,354.0 l0,11" stroke="#9fb8cf" stroke-width="0.8"/>
<path d="M181.6,352.7 l0,11" stroke="#9fb8cf" stroke-width="0.8"/>
<path d="M184.2,351.4 l0,11" stroke="#9fb8cf" stroke-width="0.8"/>
<path d="M186.8,350.0 l0,11" stroke="#9fb8cf" stroke-width="0.8"/>
<path d="M189.4,348.7 l0,11" stroke="#9fb8cf" stroke-width="0.8"/>
<path d="M192.0,347.4 l0,11" stroke="#9fb8cf" stroke-width="0.8"/>
<path d="M194.6,346.0 l0,11" stroke="#9fb8cf" stroke-width="0.8"/>
<path d="M197.2,344.7 l0,11" stroke="#9fb8cf" stroke-width="0.8"/>
<path d="M199.8,343.4 l0,11" stroke="#9fb8cf" stroke-width="0.8"/>
<path d="M202.4,342.0 l0,11" stroke="#9fb8cf" stroke-width="0.8"/>
<path d="M205.0,340.7 l0,11" stroke="#9fb8cf" stroke-width="0.8"/>
<path d="M207.6,339.4 l0,11" stroke="#9fb8cf" stroke-width="0.8"/>
<path d="M210.2,338.0 l0,11" stroke="#9fb8cf" stroke-width="0.8"/>
<path d="M212.8,336.7 l0,11" stroke="#9fb8cf" stroke-width="0.8"/>
<path d="M215.4,335.4 l0,11" stroke="#9fb8cf" stroke-width="0.8"/>
<path d="M218.0,334.0 l0,11" stroke="#9fb8cf" stroke-width="0.8"/>
<path d="M220.6,332.7 l0,11" stroke="#9fb8cf" stroke-width="0.8"/>
<path d="M223.2,331.4 l0,11" stroke="#9fb8cf" stroke-width="0.8"/>
<path d="M225.8,330.0 l0,11" stroke="#9fb8cf" stroke-width="0.8"/>
<ellipse cx="123" cy="347" rx="2.6" ry="1.8" fill="#e3e7ee" transform="rotate(28 123 347)"/>
<ellipse cx="131.5" cy="351.8" rx="2.6" ry="1.8" fill="#e3e7ee" transform="rotate(28 131.5 351.8)"/>
</g>
</svg></body></html>
